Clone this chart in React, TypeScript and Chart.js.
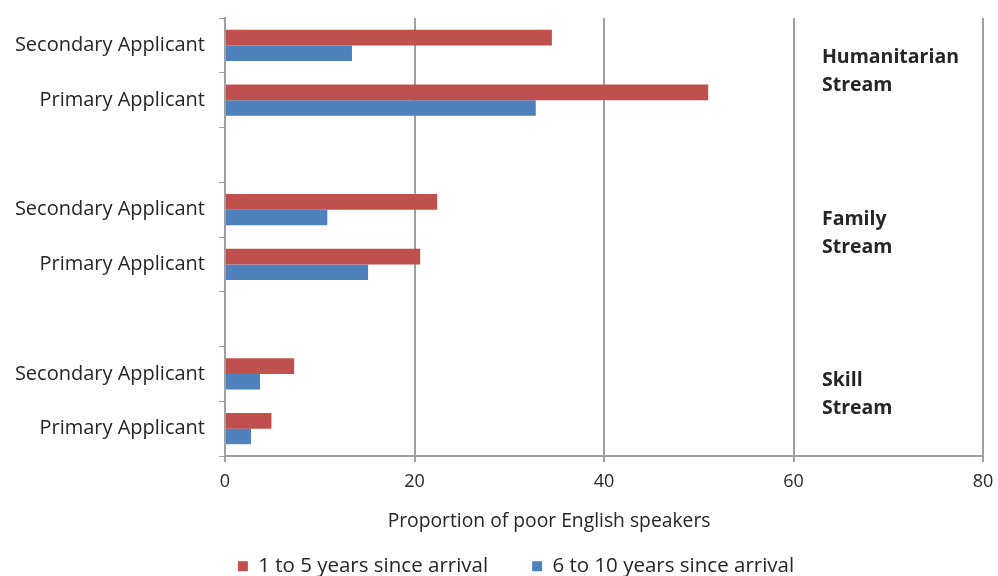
import React, { useEffect, useRef } from "react";
import { Chart, registerables } from "chart.js";

Chart.register(...registerables);

const categories = [
  "Secondary Applicant",
  "Primary Applicant",
  "",
  "Secondary Applicant",
  "Primary Applicant",
  "",
  "Secondary Applicant",
  "Primary Applicant",
];
const seriesNames = ["1 to 5 years since arrival", "6 to 10 years since arrival"];
const recentArrivals = [34.5, 51.0, null, 22.4, 20.6, null, 7.3, 4.9];
const olderArrivals = [13.4, 32.8, null, 10.8, 15.1, null, 3.7, 2.75];
const streamNames = [
  ["Humanitarian", "Stream"],
  ["Family", "Stream"],
  ["Skill", "Stream"],
];
// fractional category index where each stream label is centred
const streamLabelAt = [0.47, 3.44, 6.38];
const xTicks = [0, 20, 40, 60, 80];
const xTitle = "Proportion of poor English speakers";

const FONT = "'Open Sans'";
const GRID = "#a0a0a0";
const TEXT = "#262626";

const annotations = {
  id: "annotations",
  afterLayout(chart: any) {
    // let the category labels use the full width on the left
    const y = chart.scales.y;
    y.left = 0;
    y.width = y.right;
  },
  afterDraw(chart: any) {
    const { ctx, scales } = chart;
    const x = scales.x;
    const y = scales.y;
    ctx.save();
    ctx.fillStyle = TEXT;
    ctx.font = `bold 19.5px ${FONT}`;
    ctx.textAlign = "left";
    ctx.textBaseline = "middle";
    const sx = x.getPixelForValue(63.0);
    streamNames.forEach((lines, i) => {
      const mid = y.getPixelForValue(streamLabelAt[i]);
      ctx.fillText(lines[0], sx, mid - 14);
      ctx.fillText(lines[1], sx, mid + 14);
    });
    ctx.font = `19.3px ${FONT}`;
    ctx.textAlign = "center";
    ctx.fillText(xTitle, x.getPixelForValue(34.2), 522);
    ctx.restore();
  },
};

export default function App() {
  const ref = useRef<HTMLCanvasElement | null>(null);
  useEffect(() => {
    if (!ref.current) return;
    const chart = new Chart(ref.current, {
      type: "bar",
      data: {
        labels: categories,
        datasets: [
          {
            label: seriesNames[0],
            data: recentArrivals,
            backgroundColor: "#C0504D",
            categoryPercentage: 0.57,
            barPercentage: 1.0,
          },
          {
            label: seriesNames[1],
            data: olderArrivals,
            backgroundColor: "#4F81BD",
            categoryPercentage: 0.57,
            barPercentage: 1.0,
          },
        ],
      },
      options: {
        indexAxis: "y",
        animation: false,
        responsive: false,
        maintainAspectRatio: false,
        layout: { padding: { top: 18, right: 15, bottom: 0, left: 49 } },
        plugins: {
          legend: {
            position: "bottom",
            maxHeight: 64,
            labels: {
              boxWidth: 10,
              boxHeight: 10,
              padding: 44,
              color: TEXT,
              font: { family: FONT, size: 20.5 },
            },
          },
          tooltip: { enabled: false },
        },
        scales: {
          x: {
            min: 0,
            max: 80,
            afterBuildTicks: (s: any) => {
              s.ticks = xTicks.map((v) => ({ value: v }));
            },
            afterFit: (s: any) => {
              s.height = 56;
              s.paddingLeft = 0;
              s.paddingRight = 0;
            },
            grid: {
              color: GRID,
              lineWidth: 2,
              drawTicks: true,
              tickLength: 6,
            },
            border: { color: GRID, width: 2 },
            ticks: {
              color: TEXT,
              padding: 9,
              font: { family: FONT, size: 18 },
            },
          },
          y: {
            afterFit: (s: any) => {
              s.width = 176;
              s.paddingTop = 0;
              s.paddingBottom = 0;
            },
            grid: {
              color: GRID,
              lineWidth: 1,
              drawOnChartArea: false,
              drawTicks: true,
              tickLength: 6,
              offset: true,
            },
            border: { color: GRID, width: 2 },
            ticks: {
              color: TEXT,
              padding: 14,
              font: { family: FONT, size: 20 },
            },
          },
        },
      },
      plugins: [annotations],
    } as any);
    return () => chart.destroy();
  }, []);
  return (
    <div style={{ position: "fixed", left: 0, top: 0, width: 998, height: 576, background: "#fff" }}>
      <canvas ref={ref} width={998} height={576} style={{ width: 998, height: 576 }} />
    </div>
  );
}
